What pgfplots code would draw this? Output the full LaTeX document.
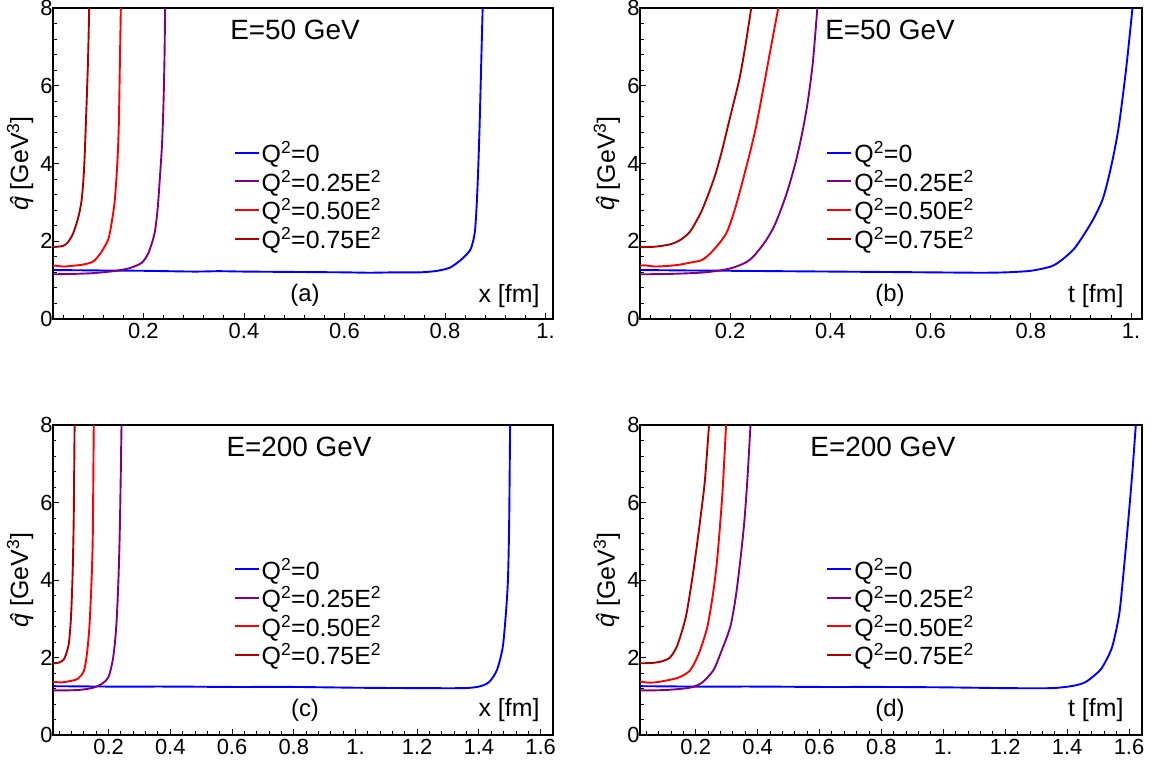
\documentclass[border=0pt]{standalone}
\usepackage{fontspec}
\setmainfont{Liberation Sans}
\usepackage{pgfplots}
\pgfplotsset{compat=1.18}
\definecolor{cblue}{RGB}{0,0,255}
\definecolor{cpurple}{RGB}{128,0,128}
\definecolor{cred}{RGB}{255,0,0}
\definecolor{cdred}{RGB}{170,0,0}
\newcommand{\qhat}{\textit{q\llap{\char"02C6\hspace{0.02em}}}}
\pgfplotsset{
  myax/.style={
    scale only axis, anchor=south west,
    ymin=0, ymax=8, xmin=0.02,
    ytick={0,2,4,6,8}, yticklabels={0,2,4,6,8},
    minor ytick={0.4,0.8,...,7.6},
    xtick pos=bottom, ytick pos=left,
    tick align=inside,
    major tick length=6bp, minor tick length=3.5bp,
    every tick/.style={black, line width=0.9bp},
    axis line style={line width=1.4bp},
    tick label style={font=\fontsize{22}{24}\selectfont},
    xticklabel style={yshift=-1bp},
    yticklabel style={xshift=3bp},
    ylabel={\fontsize{25}{27}\selectfont\qhat{} [GeV\textsuperscript{3}]},
    ylabel style={at={(axis description cs:-0.066,0.5)}, anchor=center},
    legend cell align=left,
    legend style={draw=none, fill=none, anchor=north west, font=\fontsize{25}{28}\selectfont, row sep=2bp,
      /tikz/every even column/.append style={column sep=5bp}},
    legend image code/.code={\draw[#1, line width=2bp] (0bp,0bp) -- (24bp,0bp);},
    every axis plot/.append style={line width=1.9bp, smooth, tension=0.45},
    clip=true,
  }
}
\begin{document}
\begin{tikzpicture}
\path[use as bounding box] (0,0) rectangle (1151bp,765bp);
% ---------------- (a)
\begin{axis}[myax, at={(53bp,446bp)}, width=500bp, height=311bp, xmax=1.015,
  xtick={0.2,0.4,0.6,0.8,1.0}, xticklabels={0.2,0.4,0.6,0.8,1.},
  minor xtick={0.04,0.08,...,1.0},
  legend style={at={(0.355,0.585)}}]
\addplot[cblue] coordinates {(0.02,1.26)(0.1,1.25)(0.2,1.24)(0.3,1.22)(0.35,1.23)(0.4,1.22)(0.5,1.21)(0.6,1.2)(0.65,1.19)(0.7,1.2)(0.75,1.2)(0.78,1.23)(0.8,1.28)(0.81,1.32)(0.825,1.45)(0.836,1.57)(0.85,1.77)(0.856,2.0)(0.86,2.3)(0.863,2.9)(0.866,3.8)(0.869,5.0)(0.872,6.5)(0.875,8)};
\addlegendentry{Q\textsuperscript{2}=0}
\addplot[cpurple] coordinates {(0.02,1.15)(0.06,1.16)(0.1,1.18)(0.14,1.23)(0.17,1.3)(0.196,1.44)(0.21,1.7)(0.222,2.2)(0.228,2.8)(0.232,3.5)(0.237,4.5)(0.24,5.6)(0.242,6.8)(0.243,8)};
\addlegendentry{Q\textsuperscript{2}=0.25E\textsuperscript{2}}
\addplot[cred] coordinates {(0.02,1.38)(0.04,1.35)(0.06,1.37)(0.08,1.4)(0.1,1.48)(0.115,1.7)(0.13,2.05)(0.137,2.5)(0.143,3.06)(0.148,4.0)(0.151,5.0)(0.153,6.5)(0.155,8)};
\addlegendentry{Q\textsuperscript{2}=0.50E\textsuperscript{2}}
\addplot[cdred] coordinates {(0.02,1.85)(0.04,1.88)(0.05,1.98)(0.06,2.2)(0.07,2.6)(0.077,3.06)(0.082,3.9)(0.087,5.6)(0.09,6.8)(0.092,8)};
\addlegendentry{Q\textsuperscript{2}=0.75E\textsuperscript{2}}
\node[font=\fontsize{28}{30}\selectfont] at (rel axis cs:0.484,0.93) {E=50 GeV};
\node[font=\fontsize{24}{26}\selectfont] at (rel axis cs:0.504,0.075) {(a)};
\node[font=\fontsize{25}{27}\selectfont, anchor=east] at (rel axis cs:0.98,0.075) {x [fm]};
\end{axis}
% ---------------- (b)
\begin{axis}[myax, at={(640bp,446bp)}, width=502bp, height=311bp, xmax=1.022,
  xtick={0.2,0.4,0.6,0.8,1.0}, xticklabels={0.2,0.4,0.6,0.8,1.},
  minor xtick={0.04,0.08,...,1.0},
  legend style={at={(0.365,0.585)}}]
\addplot[cblue] coordinates {(0.02,1.26)(0.1,1.25)(0.2,1.24)(0.3,1.23)(0.4,1.22)(0.5,1.21)(0.6,1.2)(0.7,1.19)(0.75,1.2)(0.8,1.24)(0.84,1.35)(0.86,1.5)(0.884,1.77)(0.9,2.05)(0.924,2.55)(0.944,3.1)(0.96,3.9)(0.975,4.9)(0.99,6.4)(1.003,8)};
\addlegendentry{Q\textsuperscript{2}=0}
\addplot[cpurple] coordinates {(0.02,1.15)(0.08,1.16)(0.15,1.2)(0.2,1.3)(0.232,1.46)(0.25,1.66)(0.272,2.03)(0.29,2.45)(0.312,3.2)(0.33,4.0)(0.344,4.8)(0.355,5.6)(0.365,6.6)(0.374,8)};
\addlegendentry{Q\textsuperscript{2}=0.25E\textsuperscript{2}}
\addplot[cred] coordinates {(0.02,1.37)(0.03,1.38)(0.05,1.35)(0.08,1.37)(0.1,1.4)(0.12,1.45)(0.144,1.52)(0.165,1.75)(0.192,2.2)(0.21,2.85)(0.232,3.9)(0.25,4.85)(0.265,5.85)(0.28,6.9)(0.296,8)};
\addlegendentry{Q\textsuperscript{2}=0.50E\textsuperscript{2}}
\addplot[cdred] coordinates {(0.02,1.85)(0.05,1.86)(0.08,1.92)(0.1,2.03)(0.12,2.25)(0.14,2.7)(0.152,3.06)(0.17,3.7)(0.184,4.35)(0.2,5.2)(0.218,6.15)(0.23,7)(0.242,8)};
\addlegendentry{Q\textsuperscript{2}=0.75E\textsuperscript{2}}
\node[font=\fontsize{28}{30}\selectfont] at (rel axis cs:0.498,0.93) {E=50 GeV};
\node[font=\fontsize{24}{26}\selectfont] at (rel axis cs:0.498,0.075) {(b)};
\node[font=\fontsize{25}{27}\selectfont, anchor=east] at (rel axis cs:0.97,0.075) {t [fm]};
\end{axis}
% ---------------- (c)
\begin{axis}[myax, at={(53bp,30bp)}, width=500bp, height=310bp, xmax=1.64,
  xtick={0.2,0.4,0.6,0.8,1.0,1.2,1.4,1.6}, xticklabels={0.2,0.4,0.6,0.8,1.,1.2,1.4,1.6},
  minor xtick={0.04,0.08,...,1.64},
  legend style={at={(0.355,0.585)}}]
\addplot[cblue] coordinates {(0.02,1.26)(0.2,1.25)(0.4,1.25)(0.6,1.24)(0.8,1.24)(1.0,1.22)(1.2,1.21)(1.35,1.21)(1.4,1.25)(1.432,1.36)(1.458,1.67)(1.477,2.26)(1.487,3.1)(1.494,4.0)(1.498,5.5)(1.501,8)};
\addlegendentry{Q\textsuperscript{2}=0}
\addplot[cpurple] coordinates {(0.02,1.15)(0.1,1.16)(0.15,1.22)(0.18,1.33)(0.2,1.5)(0.215,2)(0.225,2.8)(0.232,4)(0.237,5.5)(0.242,8)};
\addlegendentry{Q\textsuperscript{2}=0.25E\textsuperscript{2}}
\addplot[cred] coordinates {(0.02,1.37)(0.05,1.36)(0.08,1.4)(0.1,1.45)(0.12,1.65)(0.13,2.1)(0.138,2.8)(0.145,4)(0.149,5.2)(0.152,8)};
\addlegendentry{Q\textsuperscript{2}=0.50E\textsuperscript{2}}
\addplot[cdred] coordinates {(0.02,1.85)(0.04,1.87)(0.055,1.95)(0.065,2.15)(0.072,2.4)(0.078,3)(0.083,4)(0.087,5.5)(0.09,8)};
\addlegendentry{Q\textsuperscript{2}=0.75E\textsuperscript{2}}
\node[font=\fontsize{28}{30}\selectfont] at (rel axis cs:0.492,0.93) {E=200 GeV};
\node[font=\fontsize{24}{26}\selectfont] at (rel axis cs:0.504,0.08) {(c)};
\node[font=\fontsize{25}{27}\selectfont, anchor=east] at (rel axis cs:0.98,0.08) {x [fm]};
\end{axis}
% ---------------- (d)
\begin{axis}[myax, at={(640bp,30bp)}, width=502bp, height=310bp, xmax=1.642,
  xtick={0.2,0.4,0.6,0.8,1.0,1.2,1.4,1.6}, xticklabels={0.2,0.4,0.6,0.8,1.,1.2,1.4,1.6},
  minor xtick={0.04,0.08,...,1.64},
  legend style={at={(0.365,0.585)}}]
\addplot[cblue] coordinates {(0.02,1.26)(0.2,1.25)(0.4,1.25)(0.6,1.24)(0.8,1.24)(1.0,1.23)(1.2,1.21)(1.35,1.21)(1.42,1.27)(1.458,1.36)(1.49,1.55)(1.513,1.74)(1.545,2.26)(1.568,3.1)(1.58,4.0)(1.595,5.3)(1.61,6.7)(1.622,8)};
\addlegendentry{Q\textsuperscript{2}=0}
\addplot[cpurple] coordinates {(0.02,1.15)(0.1,1.16)(0.18,1.22)(0.22,1.35)(0.257,1.67)(0.28,2.1)(0.312,2.8)(0.33,3.6)(0.344,4.5)(0.357,5.5)(0.367,6.6)(0.377,8)};
\addlegendentry{Q\textsuperscript{2}=0.25E\textsuperscript{2}}
\addplot[cred] coordinates {(0.02,1.38)(0.05,1.35)(0.08,1.37)(0.12,1.43)(0.15,1.5)(0.182,1.67)(0.21,2.1)(0.237,2.77)(0.255,3.6)(0.269,4.5)(0.286,6.2)(0.298,8)};
\addlegendentry{Q\textsuperscript{2}=0.50E\textsuperscript{2}}
\addplot[cdred] coordinates {(0.02,1.85)(0.06,1.86)(0.09,1.9)(0.117,2.0)(0.14,2.3)(0.16,2.8)(0.172,3.2)(0.19,4.1)(0.204,4.9)(0.22,5.9)(0.23,6.6)(0.243,8)};
\addlegendentry{Q\textsuperscript{2}=0.75E\textsuperscript{2}}
\node[font=\fontsize{28}{30}\selectfont] at (rel axis cs:0.484,0.93) {E=200 GeV};
\node[font=\fontsize{24}{26}\selectfont] at (rel axis cs:0.498,0.08) {(d)};
\node[font=\fontsize{25}{27}\selectfont, anchor=east] at (rel axis cs:0.97,0.08) {t [fm]};
\end{axis}
\end{tikzpicture}
\end{document}
